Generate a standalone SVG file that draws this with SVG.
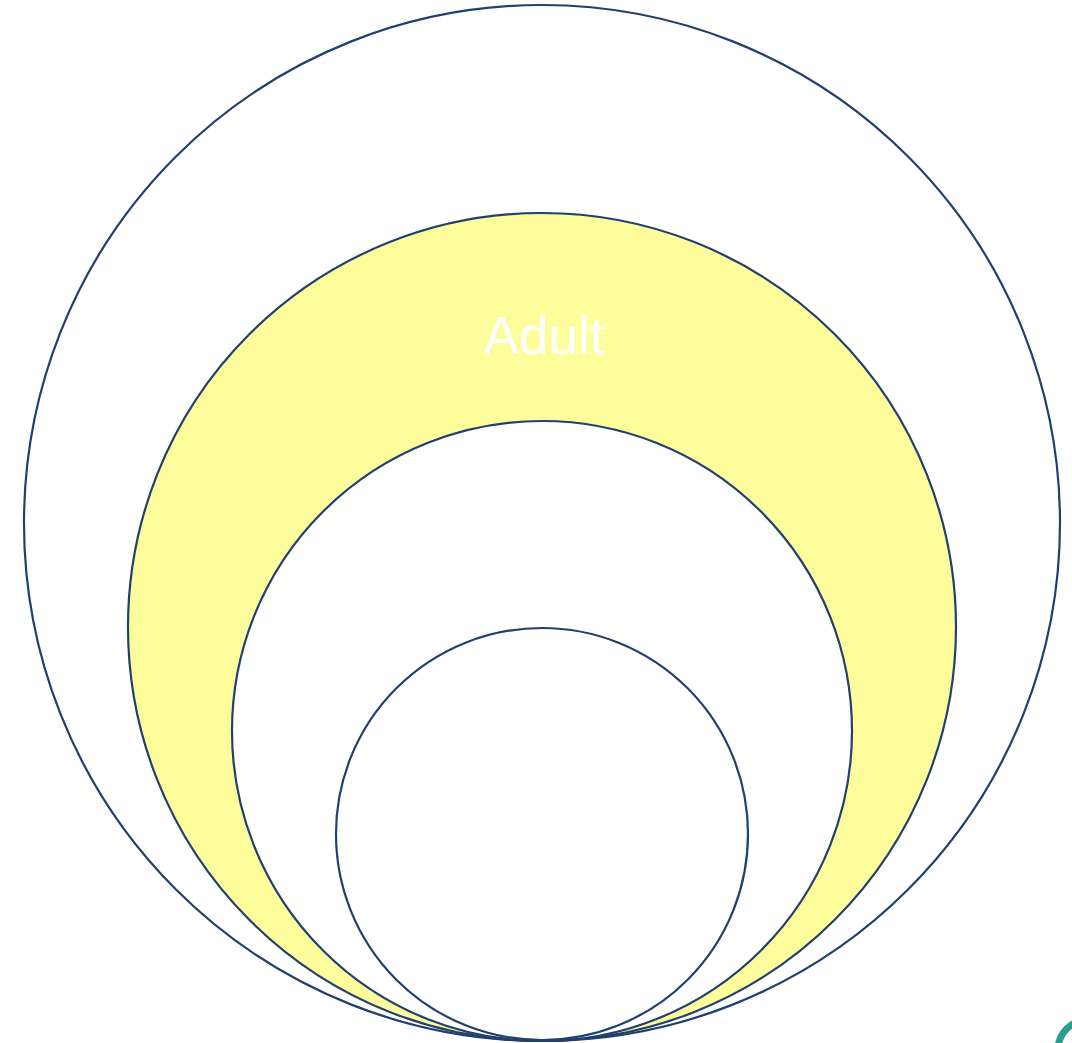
<svg xmlns="http://www.w3.org/2000/svg" width="1072" height="1043" viewBox="0 0 1072 1043">
<style>
.c{stroke:#21406f;stroke-width:2.2}
.t{font-family:"Liberation Sans",Arial,sans-serif;font-size:53px;fill:#ffffff}
</style>
<rect width="1072" height="1043" fill="#ffffff"/>
<g id="outer"><circle class="c" cx="542" cy="523" r="518" fill="#ffffff"/></g>
<g id="adult"><circle class="c" cx="542" cy="627" r="414" fill="#fdfd9c"/>
<text class="t" x="544" y="354" text-anchor="middle">Adult</text></g>
<g id="middle"><circle class="c" cx="542" cy="731" r="310" fill="#ffffff"/></g>
<g id="inner"><circle class="c" cx="542" cy="834" r="206" fill="#ffffff"/></g>
<circle cx="1088" cy="1050" r="30" fill="none" stroke="#2a9d8f" stroke-width="7"/>
</svg>
